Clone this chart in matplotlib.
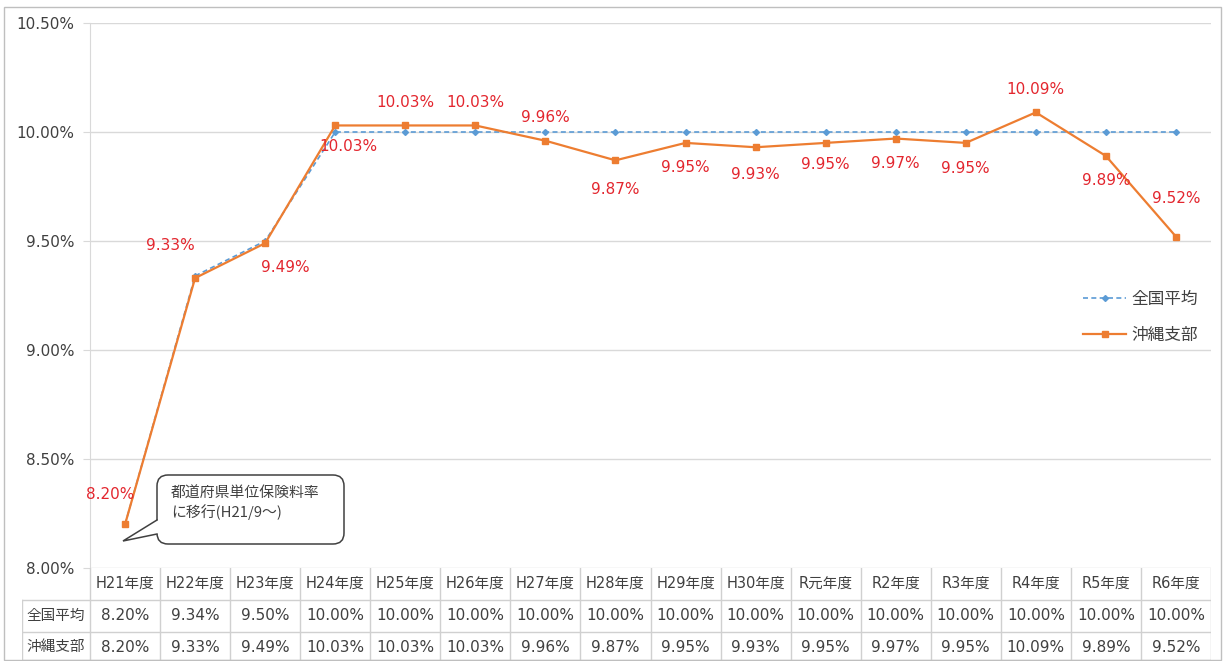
import numpy as np
import matplotlib.pyplot as plt
from matplotlib.patches import FancyBboxPatch, Polygon, Rectangle

plt.rcParams['font.family'] = ['DejaVu Sans', 'Noto Sans CJK JP']

years = ['H21年度', 'H22年度', 'H23年度', 'H24年度', 'H25年度', 'H26年度', 'H27年度', 'H28年度',
         'H29年度', 'H30年度', 'R元年度', 'R2年度', 'R3年度', 'R4年度', 'R5年度', 'R6年度']
zenkoku = [8.20, 9.34, 9.50, 10.00, 10.00, 10.00, 10.00, 10.00,
           10.00, 10.00, 10.00, 10.00, 10.00, 10.00, 10.00, 10.00]
okinawa = [8.20, 9.33, 9.49, 10.03, 10.03, 10.03, 9.96, 9.87,
           9.95, 9.93, 9.95, 9.97, 9.95, 10.09, 9.89, 9.52]
series_names = ['全国平均', '沖縄支部']
yticks = [8.0, 8.5, 9.0, 9.5, 10.0, 10.5]
note_lines = ['都道府県単位保険料率', 'に移行(H21/9～)']

# label offsets in pixels (dx, dy) for the okinawa labels
label_off = [(-15, 30), (-25, 33), (20, -24), (13, -21), (0, 23), (0, 23), (0, 23), (0, -29),
             (0, -25), (0, -27), (0, -22), (0, -25), (0, -26), (0, 23), (0, -25), (0, 38)]

W, H = 1228, 661
fig = plt.figure(figsize=(W / 100, H / 100), dpi=100)


def fx(x):
    return x / W


def fy(y):
    return 1 - y / H


grid_c = '#D9D9D9'
blue = '#5B9BD5'
orange = '#ED7D31'
red = '#E3262E'
txt_c = '#404040'

x0, x1 = 90, 1211
ax = fig.add_axes([fx(x0), fy(568), fx(x1) - fx(x0), fy(23) - fy(568)])
x = np.arange(len(years))
ax.set_xlim(-0.5, len(years) - 0.5)
ax.set_ylim(8.0, 10.5)
ax.set_yticks(yticks)
ax.set_yticklabels([f'{v:.2f}%' for v in yticks], fontsize=11, color=txt_c)
ax.set_xticks([])
ax.tick_params(axis='y', length=5, color=grid_c, pad=6)
for s in ['top', 'right', 'bottom']:
    ax.spines[s].set_visible(False)
ax.spines['left'].set_color(grid_c)
ax.grid(axis='y', color=grid_c, lw=1)
ax.set_axisbelow(True)

l1, = ax.plot(x, zenkoku, color=blue, ls=(0, (3, 2)), lw=1.2, marker='D', ms=3,
              label=series_names[0])
l2, = ax.plot(x, okinawa, color=orange, lw=1.6, marker='s', ms=4.5,
              label=series_names[1])

for i, v in enumerate(okinawa):
    ax.annotate(f'{v:.2f}%', (x[i], v), xytext=label_off[i], textcoords='offset pixels',
                ha='center', va='center', fontsize=11, color=red)

leg = fig.legend(handles=[l1, l2], loc='center left',
                 bbox_to_anchor=(fx(1068), fy(317)), frameon=False, fontsize=12,
                 handlelength=2.6, labelspacing=1.1, handletextpad=0.3)
for t in leg.get_texts():
    t.set_color(txt_c)

# overlay in pixel coordinates for frame and callout
ov = fig.add_axes([0, 0, 1, 1], zorder=5)
ov.set_xlim(0, W)
ov.set_ylim(H, 0)
ov.axis('off')
ov.patch.set_alpha(0)
ov.add_patch(Rectangle((4, 7), 1217, 653, fill=False, ec='#BFBFBF', lw=1))
ov.add_patch(FancyBboxPatch((157, 475), 187, 69, boxstyle='round,pad=0,rounding_size=11',
                            fc='white', ec=txt_c, lw=1.1, zorder=5))
ov.add_patch(Polygon([(158, 520), (123, 541), (158, 534)], closed=True,
                     fc='white', ec='none', zorder=6))
ov.plot([157, 123, 157], [520, 541, 534], color=txt_c, lw=1.1, zorder=7,
        solid_joinstyle='miter')
for line, yy in zip(note_lines, [493, 512]):
    ov.text(171, yy, line, fontsize=10.7, color=txt_c, va='center', ha='left',
            zorder=8, family=['Noto Sans CJK JP', 'DejaVu Sans'])

# data table below the axis
tax = fig.add_axes([fx(22), fy(661), fx(x1) - fx(22), fy(568) - fy(661)])
colw = (x1 - x0) / len(years)
xl = -0.5 - (x0 - 22) / colw
tax.set_xlim(xl, len(years) - 0.5)
tax.set_ylim(661, 568)
tax.axis('off')
line_c = '#D0D0D0'
for yy in [600, 632, 660]:
    tax.plot([xl, len(years) - 0.5], [yy, yy], color=line_c, lw=1)
tax.plot([xl, xl], [600, 661], color=line_c, lw=1)
for k in range(len(years) + 1):
    tax.plot([k - 0.5, k - 0.5], [568, 661], color=line_c, lw=1)

for i, name in enumerate(years):
    tax.text(i, 583, name, ha='center', va='center', fontsize=10.5, color=txt_c)
    tax.text(i, 616, f'{zenkoku[i]:.2f}%', ha='center', va='center', fontsize=11, color=txt_c)
    tax.text(i, 647, f'{okinawa[i]:.2f}%', ha='center', va='center', fontsize=11, color=txt_c)
for r, yy in zip(series_names, [616, 647]):
    tax.text((xl - 0.5) / 2, yy, r, ha='center', va='center', fontsize=10.5,
             color=txt_c, family=['Noto Sans CJK JP'])

fig.savefig('out.png', dpi=100)
